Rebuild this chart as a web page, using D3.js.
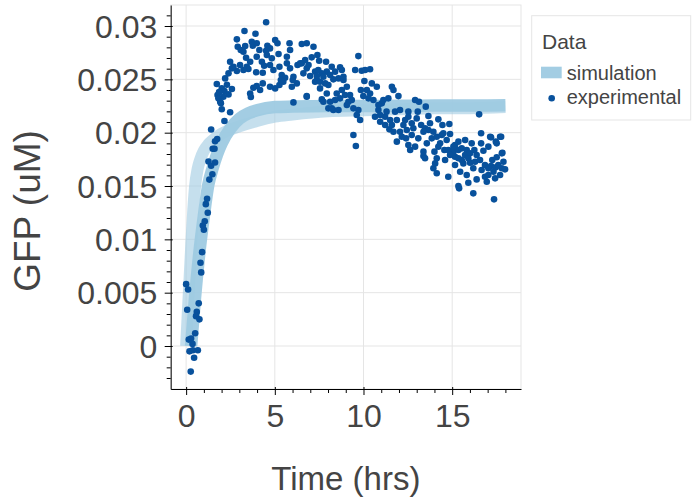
<!DOCTYPE html>
<html>
<head>
<meta charset="utf-8">
<script src="https://cdn.jsdelivr.net/npm/d3@7/dist/d3.min.js"></script>
<style>
  html, body { margin: 0; padding: 0; background: #fff; }
  svg { display: block; }
  text { font-family: "Liberation Sans", Arial, Helvetica, sans-serif; }
</style>
</head>
<body>
<svg id="chart" width="700" height="500"></svg>
<script>
// ---------- data ----------
// simulation trajectory A (lighter band, fast rise)
const simATime = [0, 0.1, 0.2, 0.3, 0.4, 0.5, 0.65, 0.8, 1.0, 1.25, 1.5, 2.0, 2.5, 3.0, 4.0, 5.0, 6.0, 8.0, 10.0, 12.0, 14.0, 16.0, 18.0];
const simAGFP  = [0, 0.0033, 0.0065, 0.0098, 0.0127, 0.0149, 0.0166, 0.0175, 0.0183, 0.0189, 0.0193, 0.0199, 0.0203, 0.0206, 0.0211, 0.0215, 0.0217, 0.0220, 0.0221, 0.0222, 0.0223, 0.0223, 0.0224];
// simulation trajectory B (darker band, slower rise)
const simBTime = [0.28, 0.5, 0.75, 1.0, 1.25, 1.5, 1.75, 2.0, 2.5, 3.0, 3.5, 4.0, 5.0, 6.0, 8.0, 10.0, 12.0, 14.0, 16.0, 18.0];
const simBGFP  = [0, 0.0045, 0.0088, 0.0122, 0.0151, 0.0167, 0.0180, 0.0190, 0.0204, 0.0213, 0.0218, 0.0221, 0.0224, 0.02245, 0.0225, 0.0225, 0.02252, 0.02254, 0.02255, 0.02256];

// experimental measurements
const expTime = [
  0.00, 0.11, 0.06, 0.15, 0.28, 0.36, 0.19, 0.38, 0.45, 0.26, 0.66, 0.51, 0.71, 0.60, 0.56, 0.75,
  0.85, 0.81, 0.90, 1.00, 0.94, 1.05, 1.22, 1.11, 1.18, 1.31,
  1.48, 1.26, 1.63, 1.41, 1.50, 1.60, 1.63, 1.75, 1.41,
  4.51, 3.29, 3.91, 2.86, 2.91, 3.33, 3.76, 3.98, 3.70, 3.08, 4.13, 4.58, 4.73, 4.51, 5.02, 5.15,
  4.83, 5.21, 5.83, 5.68, 6.28, 3.38, 3.23, 2.48, 2.67, 3.04, 3.42, 2.86, 2.58, 3.51, 3.95, 4.27,
  4.40, 4.32, 4.73, 5.26, 5.39, 5.58, 5.86, 6.05, 6.24, 1.73, 2.20, 2.01, 2.16, 1.77, 2.10, 1.92,
  2.39, 2.58, 3.61, 3.79, 3.98, 4.32, 5.02, 5.26, 5.34, 5.48, 6.01, 6.05, 2.01, 2.48, 2.16, 3.65,
  1.82, 1.96, 1.86, 2.30, 6.80, 7.37,
  4.55, 3.98, 3.61, 3.23, 2.39, 4.92, 5.68, 5.96, 4.73, 4.17, 6.80, 5.86, 6.52,
  6.52, 7.18, 6.71, 7.08, 7.40, 7.50, 7.89, 8.21, 8.68, 8.78, 8.40, 7.93, 7.65, 7.27, 6.80, 6.61,
  6.99, 7.37, 7.74, 7.27, 8.30, 8.59, 8.87, 7.55, 8.02, 7.93, 8.49, 8.78, 9.06, 6.80, 7.65, 8.12,
  8.68, 9.15, 9.24, 9.43, 8.02, 8.30, 8.59, 9.71, 9.53, 9.90, 10.09, 10.37, 10.05, 9.85, 10.19, 10.37,
  9.99, 10.56, 10.75, 9.71, 9.62, 9.81, 9.43, 9.57, 10.65, 10.84, 11.03, 10.94, 11.22, 11.40, 11.60, 11.69,
  11.30, 11.46, 11.22, 11.78, 12.06, 11.97, 11.69, 12.06, 12.35, 12.44, 12.53, 12.40, 12.63,
  6.43, 6.90, 7.45, 8.12, 7.55, 7.84, 8.87, 8.96, 9.06, 9.34, 8.40, 7.74, 8.21,
  10.47, 10.28, 10.84, 11.12, 10.94, 11.50, 11.88, 11.60, 12.25, 12.16, 11.88, 12.53,
  12.91, 13.13, 13.51, 13.06, 13.66, 12.72, 13.00, 13.25, 13.47, 13.66, 13.94, 14.22, 14.45, 14.84,
  14.50, 14.88, 12.72, 13.09, 13.85, 13.57, 14.32, 14.69, 14.22, 13.38, 14.00, 14.56, 14.13, 13.38,
  15.16, 15.07, 15.35, 15.54, 15.82, 15.73, 16.01, 16.25, 16.38, 15.16, 15.63, 16.01, 16.29, 16.57,
  16.85, 17.19, 17.46, 17.80, 17.98, 17.60, 17.26, 17.89, 16.63, 17.19, 17.51, 17.76, 17.46, 16.63,
  16.76, 17.83, 17.51, 16.52, 13.94, 14.13, 14.78, 15.45, 15.82, 15.35, 15.39, 15.91, 16.38, 16.95,
  17.42, 17.04, 16.19, 17.36, 14.78, 15.16, 15.35, 17.70, 17.80, 17.14,
  12.81, 13.38, 13.75, 14.13, 14.41, 15.07, 15.54, 15.91, 16.19, 16.66, 17.04, 17.33, 17.70, 16.85,
  14.60, 14.04, 13.47, 14.88, 12.53, 12.91, 16.10, 17.04, 15.73, 15.35
];
const expGFP = [
  0.0058, 0.0053, 0.0034, 0.0006, 0.0007, 0.0002, -0.0005, -0.0004, -0.0011, -0.0024, -0.0004, 0.0012, 0.0040, 0.0032, 0.0028, 0.0025,
  0.0069, 0.0078, 0.0088, 0.0109, 0.0113, 0.0117, 0.0125, 0.0133, 0.0138, 0.0156,
  0.0161, 0.0173, 0.0172, 0.0169, 0.0185, 0.0185, 0.0192, 0.0194, 0.0203,
  0.03035, 0.02953, 0.02928, 0.02875, 0.02806, 0.02813, 0.02815, 0.02838, 0.02853, 0.02775, 0.02775, 0.02815, 0.0279, 0.02768, 0.02869, 0.02838,
  0.02697, 0.02737, 0.02838, 0.02712, 0.02634, 0.02703, 0.02759, 0.02665, 0.02618, 0.02634, 0.02618, 0.02578, 0.02603, 0.02597, 0.02566, 0.02665,
  0.02628, 0.02562, 0.02634, 0.02618, 0.0254, 0.02515, 0.02603, 0.02525, 0.02462, 0.02456, 0.02509, 0.02415, 0.0239, 0.02353, 0.02337, 0.0229,
  0.02359, 0.02409, 0.02368, 0.02421, 0.02437, 0.02462, 0.02415, 0.02447, 0.02494, 0.02478, 0.02494, 0.02284, 0.02219, 0.02191, 0.02109, 0.02334,
  0.02322, 0.02275, 0.02380, 0.02450, 0.02337, 0.02494,
  0.02728, 0.02712, 0.02665, 0.02587, 0.02556, 0.02587, 0.0265, 0.02431, 0.02431, 0.024, 0.02838, 0.02775, 0.0265,
  0.02831, 0.02806, 0.02681, 0.02706, 0.02728, 0.02675, 0.02665, 0.02618, 0.02613, 0.02588, 0.02572, 0.02572, 0.02556, 0.02572, 0.02603, 0.02556,
  0.02531, 0.02531, 0.02525, 0.02478, 0.025, 0.02509, 0.02494, 0.02415, 0.02447, 0.02368, 0.02368, 0.024, 0.02431, 0.02343, 0.02312, 0.0229,
  0.02322, 0.0229, 0.02353, 0.02228, 0.02228, 0.02212, 0.02212, 0.02718, 0.02588, 0.02581, 0.02588, 0.02594, 0.02484, 0.024, 0.024, 0.02368,
  0.02343, 0.02306, 0.02431, 0.02212, 0.02166, 0.02119, 0.01978, 0.01875, 0.0215, 0.02212, 0.02275, 0.02103, 0.0215, 0.02322, 0.02431, 0.024,
  0.02197, 0.02031, 0.02072, 0.02197, 0.02212, 0.02343, 0.02009, 0.02009, 0.02119, 0.02025, 0.02197, 0.01947, 0.01837,
  0.0265, 0.02634, 0.02588, 0.0254, 0.02478, 0.02462, 0.02525, 0.02353, 0.02259, 0.02306, 0.02306, 0.0229, 0.02228,
  0.02462, 0.02322, 0.02259, 0.02306, 0.02166, 0.02119, 0.02119, 0.02072, 0.02072, 0.01962, 0.01916, 0.0215,
  0.02306, 0.0229, 0.02244, 0.02197, 0.02156, 0.02088, 0.02134, 0.02072, 0.02041, 0.02025, 0.02009, 0.02125, 0.02072, 0.02081,
  0.01994, 0.01988, 0.01978, 0.01947, 0.01947, 0.019, 0.019, 0.01931, 0.01868, 0.01822, 0.01822, 0.01837, 0.0176, 0.01781,
  0.01884, 0.01822, 0.01837, 0.01853, 0.01837, 0.01791, 0.01806, 0.01837, 0.01791, 0.01697, 0.01712, 0.01719, 0.01728, 0.01744,
  0.01697, 0.01688, 0.01675, 0.01666, 0.01656, 0.01697, 0.01744, 0.01728, 0.01994, 0.01956, 0.019, 0.01962, 0.01916, 0.019,
  0.01831, 0.01812, 0.01769, 0.02172, 0.01666, 0.01619, 0.01587, 0.01634, 0.01603, 0.015, 0.01478, 0.01531, 0.01562, 0.0154,
  0.01572, 0.01603, 0.01431, 0.01375, 0.01837, 0.01775, 0.0176, 0.01962, 0.01806, 0.01962,
  0.02041, 0.02009, 0.02088, 0.01962, 0.01978, 0.01869, 0.01744, 0.0176, 0.01666, 0.0165, 0.01666, 0.01634, 0.01603, 0.01587,
  0.01744, 0.01712, 0.0176, 0.01791, 0.01884, 0.01869, 0.019, 0.01869, 0.01931, 0.01916
];

const xMajorTicks = [0, 5, 10, 15];
const xTickLabels = ["0", "5", "10", "15"];
const yMajorTicks = [0, 0.005, 0.01, 0.015, 0.02, 0.025, 0.03];
const yTickLabels = ["0", "0.005", "0.01", "0.015", "0.02", "0.025", "0.03"];
const xMinorTicks = [1, 2, 3, 4, 6, 7, 8, 9, 11, 12, 13, 14, 16, 17, 18];
const yMinorTicks = [-0.003, -0.002, -0.001, 0.001, 0.002, 0.003, 0.004, 0.006, 0.007, 0.008, 0.009,
  0.011, 0.012, 0.013, 0.014, 0.016, 0.017, 0.018, 0.019, 0.021, 0.022, 0.023, 0.024,
  0.026, 0.027, 0.028, 0.029, 0.031];

const xLabel = "Time (hrs)";
const yLabel = "GFP (uM)";
const legendTitle = "Data";
const legendNames = ["simulation", "experimental"];

// ---------- layout ----------
const frame = { left: 170.7, right: 521, top: 5, bottom: 389 };
const simColor = "#9ecae1";
const expColor = "#08519c";
const textColor = "#444444";
const gridColor = "#e5e5e5";

const svg = d3.select("#chart");

const x = d3.scaleLinear().domain([-0.87, 18.88]).range([frame.left, frame.right]);
const y = d3.scaleLinear().domain([-0.00403, 0.03197]).range([frame.bottom, frame.top]);

// frame outline
svg.append("rect")
  .attr("x", frame.left).attr("y", frame.top)
  .attr("width", frame.right - frame.left).attr("height", frame.bottom - frame.top)
  .attr("fill", "none").attr("stroke", gridColor);

// grid lines
const grid = svg.append("g").attr("stroke", gridColor).attr("stroke-width", 1);
grid.selectAll("line.gx").data(xMajorTicks).join("line")
  .attr("x1", d => x(d)).attr("x2", d => x(d))
  .attr("y1", frame.top).attr("y2", frame.bottom);
grid.selectAll("line.gy").data(yMajorTicks).join("line")
  .attr("class", "gy")
  .attr("x1", frame.left).attr("x2", frame.right)
  .attr("y1", d => y(d)).attr("y2", d => y(d));

// simulation bands (thick lines)
const simLine = d3.line().x(d => x(d[0])).y(d => y(d[1])).curve(d3.curveMonotoneX);
const simA = simATime.map((t, i) => [t, simAGFP[i]]);
const simB = simBTime.map((t, i) => [t, simBGFP[i]]);

svg.append("path").datum(simA)
  .attr("d", simLine)
  .attr("fill", "none").attr("stroke", simColor).attr("stroke-opacity", 0.6)
  .attr("stroke-width", 12).attr("stroke-linecap", "butt").attr("stroke-linejoin", "round");
svg.append("path").datum(simB)
  .attr("d", simLine)
  .attr("fill", "none").attr("stroke", simColor).attr("stroke-opacity", 0.95)
  .attr("stroke-width", 12.5).attr("stroke-linecap", "butt").attr("stroke-linejoin", "round");

// experimental points
svg.append("g").selectAll("circle")
  .data(expTime.map((t, i) => [t, expGFP[i]]))
  .join("circle")
  .attr("cx", d => x(d[0])).attr("cy", d => y(d[1]))
  .attr("r", 3.3).attr("fill", expColor);

// axes
const fontFam = '"Liberation Sans", Arial, Helvetica, sans-serif';
function styleAxis(g) {
  g.select(".domain").attr("stroke", "#000").attr("stroke-width", 1);
  g.selectAll(".tick line").attr("stroke", "#000");
  g.selectAll(".tick text").attr("fill", textColor).attr("font-size", 32).attr("font-family", fontFam);
}

const xAxis = d3.axisBottom(x).tickValues(xMajorTicks)
  .tickFormat((d, i) => xTickLabels[i]).tickSizeInner(6).tickSizeOuter(0).tickPadding(9);
const gx = svg.append("g").attr("transform", `translate(0,${frame.bottom})`).call(xAxis);
styleAxis(gx);
gx.selectAll(".tick line").attr("y1", -2);

const xMinor = d3.axisBottom(x).tickValues(xMinorTicks).tickFormat("").tickSizeInner(4).tickSizeOuter(0);
const gxm = svg.append("g").attr("transform", `translate(0,${frame.bottom})`).call(xMinor);
gxm.select(".domain").remove();
gxm.selectAll(".tick line").attr("stroke", "#000");

const yAxis = d3.axisLeft(y).tickValues(yMajorTicks)
  .tickFormat((d, i) => yTickLabels[i]).tickSizeInner(6).tickSizeOuter(0).tickPadding(7.4);
const gy = svg.append("g").attr("transform", `translate(${frame.left},0)`).call(yAxis);
styleAxis(gy);
gy.selectAll(".tick line").attr("x1", 2);
gy.selectAll(".tick text").attr("dy", "0.35em");

const yMinor = d3.axisLeft(y).tickValues(yMinorTicks).tickFormat("").tickSizeInner(4).tickSizeOuter(0);
const gym = svg.append("g").attr("transform", `translate(${frame.left},0)`).call(yMinor);
gym.select(".domain").remove();
gym.selectAll(".tick line").attr("stroke", "#000");

// axis titles
svg.append("text")
  .attr("x", (frame.left + frame.right) / 2).attr("y", 490)
  .attr("text-anchor", "middle").attr("font-size", 33).attr("fill", textColor)
  .text(xLabel);
svg.append("text")
  .attr("transform", `translate(40,211) rotate(-90)`)
  .attr("text-anchor", "middle").attr("font-size", 37).attr("fill", textColor)
  .text(yLabel);

// legend
const lg = svg.append("g");
lg.append("rect").attr("x", 531.7).attr("y", 15.7).attr("width", 159).attr("height", 104.3)
  .attr("fill", "#fff").attr("stroke", gridColor);
lg.append("text").attr("x", 542).attr("y", 49.3).attr("font-size", 21).attr("fill", textColor).text(legendTitle);
lg.append("rect").attr("x", 541).attr("y", 66.7).attr("width", 20.7).attr("height", 11.6)
  .attr("fill", simColor).attr("fill-opacity", 0.95);
lg.append("text").attr("x", 566.7).attr("y", 80).attr("font-size", 20).attr("fill", textColor).text(legendNames[0]);
lg.append("circle").attr("cx", 551.7).attr("cy", 98.3).attr("r", 3.3).attr("fill", expColor);
lg.append("text").attr("x", 566.7).attr("y", 104.3).attr("font-size", 20).attr("fill", textColor).text(legendNames[1]);
</script>
</body>
</html>
